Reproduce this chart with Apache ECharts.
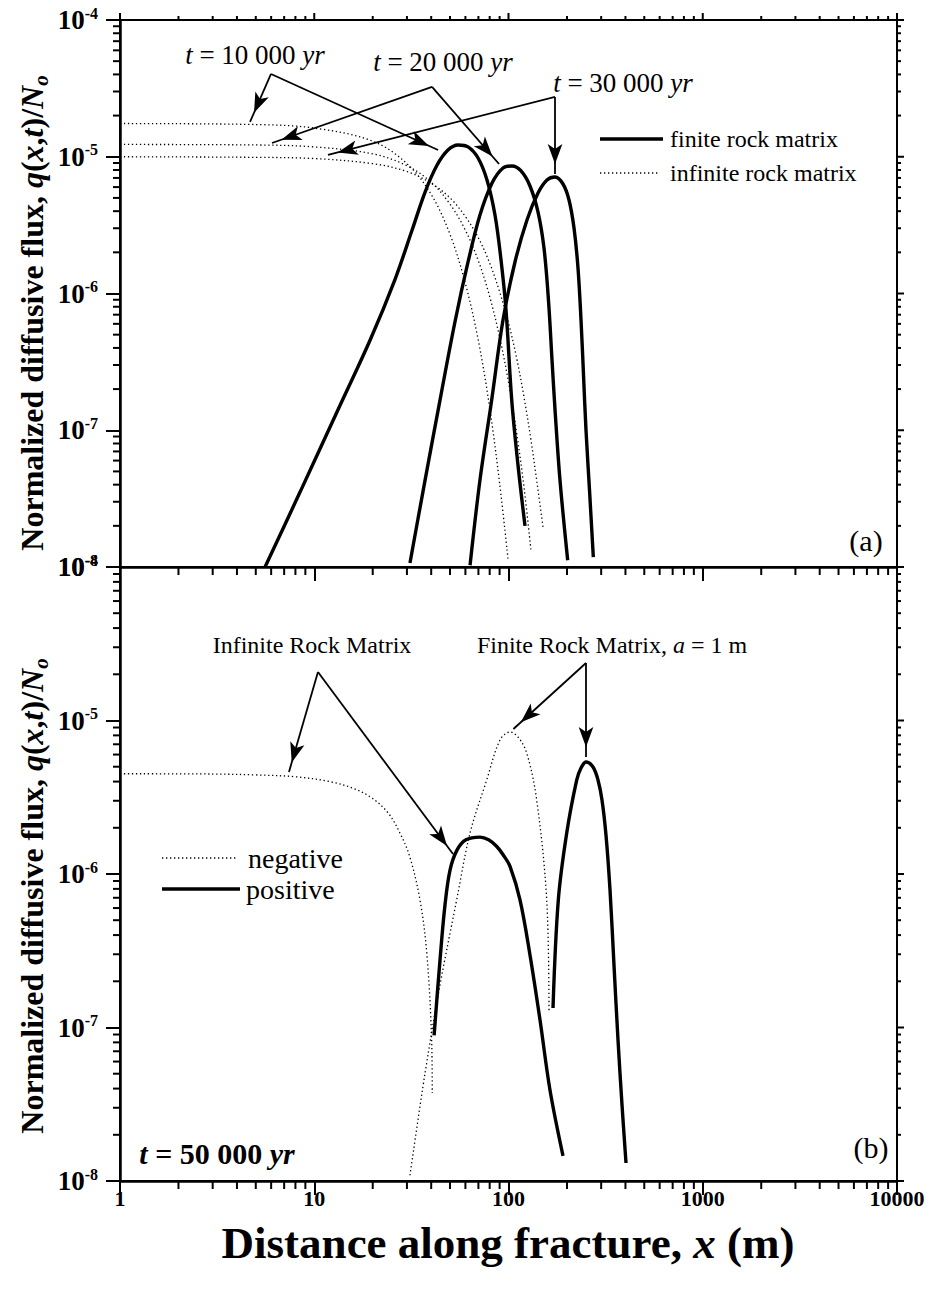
<!DOCTYPE html>
<html><head><meta charset="utf-8">
<script src="https://cdn.jsdelivr.net/npm/echarts/dist/echarts.min.js"></script>
<style>html,body{margin:0;padding:0;background:#fff}#c{width:934px;height:1289px}</style>
</head><body><div id="c"></div>
<script>
// ---------- data ----------
// panel (a): finite rock matrix (thick)
const fin10kX = [5.58, 8.45, 13.6, 19.4, 26.0, 31.9, 37.2, 42.9, 48.8, 55.0, 61.9, 69.7, 77.5, 85.2, 91.5, 97.1, 103.9, 111.9, 121.6];
const fin10kY = [1.0e-8, 3.53e-8, 1.53e-7, 4.57e-7, 1.26e-6, 2.91e-6, 5.52e-6, 8.70e-6, 1.12e-5, 1.22e-5, 1.18e-5, 9.79e-6, 6.76e-6, 3.75e-6, 1.76e-6, 7.57e-7, 1.66e-7, 5.57e-8, 2.0e-8];
const fin20kX = [31.1, 37.2, 44.4, 53.0, 61.9, 71.3, 82.3, 93.7, 104.2, 116.0, 129.0, 141.9, 152.3, 160.6, 167.5, 173.6, 184.1, 201.7];
const fin20kY = [1.07e-8, 4.32e-8, 1.66e-7, 6.19e-7, 1.70e-6, 3.75e-6, 6.43e-6, 8.27e-6, 8.56e-6, 7.87e-6, 6.11e-6, 3.94e-6, 2.15e-6, 8.96e-7, 3.26e-7, 1.41e-7, 4.32e-8, 1.12e-8];
const fin30kX = [63.4, 71.3, 81.9, 93.7, 108.0, 124.5, 141.9, 157.8, 173.6, 190.8, 204.9, 217.4, 227.9, 236.2, 243.3, 250.6, 261.2, 273.3];
const fin30kY = [1.03e-8, 4.32e-8, 1.66e-7, 6.40e-7, 1.70e-6, 3.45e-6, 5.43e-6, 6.76e-6, 7.11e-6, 6.32e-6, 4.83e-6, 3.01e-6, 1.54e-6, 6.40e-7, 2.54e-7, 1.0e-7, 3.66e-8, 1.18e-8];
// panel (a): infinite rock matrix (dotted)
const inf10kX = [1, 5, 10, 20, 30, 40, 50, 60, 70, 80, 90, 99.4];
const inf10kY = [1.75e-5, 1.72e-5, 1.62e-5, 1.30e-5, 8.9e-6, 5.3e-6, 2.7e-6, 1.18e-6, 4.5e-7, 1.46e-7, 4.1e-8, 1.15e-8];
const inf20kX = [1, 5, 10, 20, 30, 40, 50, 60, 70, 80, 90, 100, 110, 120, 130.6];
const inf20kY = [1.23e-5, 1.22e-5, 1.18e-5, 1.05e-5, 8.6e-6, 6.5e-6, 4.5e-6, 2.9e-6, 1.73e-6, 9.5e-7, 4.8e-7, 2.25e-7, 9.7e-8, 3.9e-8, 1.31e-8];
const inf30kX = [1, 5, 10, 20, 30, 40, 50, 60, 70, 80, 90, 100, 110, 120, 130, 140, 151];
const inf30kY = [1.0e-5, 9.9e-6, 9.7e-6, 8.9e-6, 7.8e-6, 6.4e-6, 5.0e-6, 3.65e-6, 2.55e-6, 1.67e-6, 1.03e-6, 6.1e-7, 3.4e-7, 1.77e-7, 8.8e-8, 4.2e-8, 1.9e-8];
// panel (b): t = 50 000 yr
const infNegX = [1, 3, 5, 8, 12, 16, 20, 24, 27.6, 31, 35, 38, 40.2, 40.5];
const infNegY = [4.5e-6, 4.48e-6, 4.42e-6, 4.3e-6, 4.0e-6, 3.6e-6, 3.1e-6, 2.5e-6, 1.85e-6, 1.3e-6, 6.8e-7, 3.0e-7, 8.3e-8, 3.74e-8];
const infPosX = [41.4, 44.4, 47.1, 50.0, 54.3, 60.4, 71.3, 79, 87, 94, 101.8, 114.6, 129.0, 145.3, 163.5, 190.8];
const infPosY = [8.9e-8, 2.75e-7, 6.28e-7, 1.06e-6, 1.43e-6, 1.67e-6, 1.74e-6, 1.67e-6, 1.51e-6, 1.33e-6, 1.12e-6, 6.78e-7, 2.97e-7, 1.12e-7, 3.92e-8, 1.46e-8];
const finNegX = [31.1, 37.2, 44.4, 54.1, 63.4, 77.2, 90.4, 101.8, 112, 124.1, 139.7, 157.3, 161.6];
const finNegY = [1.09e-8, 5.06e-8, 1.89e-7, 6.78e-7, 1.85e-6, 4.09e-6, 7.46e-6, 8.42e-6, 7.8e-6, 6.14e-6, 3.03e-6, 6.78e-7, 1.26e-7];
const finPosX = [169.5, 180.5, 199.4, 224.4, 236.2, 250.6, 272.3, 288.9, 302.9, 317.6, 333.1, 349.2, 366.2, 384.0, 402.7];
const finPosY = [1.34e-7, 6.78e-7, 1.85e-6, 4.09e-6, 4.9e-6, 5.37e-6, 4.98e-6, 4.10e-6, 3.03e-6, 1.79e-6, 7.87e-7, 2.55e-7, 8.3e-8, 3.13e-8, 1.31e-8];
// tick labels
const xTickLabels = ['1', '10', '100', '1000', '10000'];
const yTickExps = ['-8', '-7', '-6', '-5', '-4'];
// annotation arrows, [from, to] in data coordinates
const arrowsTop = [
  [[5.99, 4.03e-5], [4.67, 1.8e-5]],
  [[5.99, 4.03e-5], [43.4, 1.12e-5]],
  [[40.4, 3.24e-5], [6.06, 1.26e-5]],
  [[40.4, 3.24e-5], [89.4, 8.85e-6]],
  [[173.6, 2.74e-5], [11.77, 1.03e-5]],
  [[173.6, 2.74e-5], [173.6, 7.48e-6]]
];
const arrowsBottom = [
  [[10.45, 2.07e-5], [7.41, 4.62e-6]],
  [[10.45, 2.07e-5], [51.8, 1.35e-6]],
  [[250.6, 2.37e-5], [106, 8.8e-6]],
  [[250.6, 2.37e-5], [250.6, 5.78e-6]]
];

// ---------- chart ----------
const FONT = 'Liberation Serif, Times New Roman, serif';
const chart = echarts.init(document.getElementById('c'), null, {renderer: 'svg', width: 934, height: 1289});
const zip = (xs, ys) => xs.map((x, i) => [x, ys[i]]);

function lineSeries(xs, ys, gi, isThick, extra) {
  return Object.assign({
    type: 'line', xAxisIndex: gi, yAxisIndex: gi, data: zip(xs, ys),
    showSymbol: false, symbol: 'none', smooth: 0.35, silent: true,
    lineStyle: isThick ? {color: '#000', width: 3.4} : {color: '#000', width: 1.3, type: [1.3, 2.7]},
    z: isThick ? 4 : 3
  }, extra || {});
}
function arrowMark(list) {
  return {
    silent: true, animation: false, symbol: ['none', 'arrow'], label: {show: false},
    lineStyle: {color: '#000', width: 1.8, type: 'solid'}, emphasis: {disabled: true},
    data: list.map(a => [{coord: a[0], symbol: 'none'}, {coord: a[1], symbol: 'arrow', symbolSize: [11, 20], symbolOffset: [0, 10]}])
  };
}
function tickData(gi) {
  const d = [];
  for (let e = -8; e < -4; e++) for (let m = 2; m <= 9; m++) {
    const v = m * Math.pow(10, e); d.push([1, v, 0]); d.push([10000, v, 3]);
  }
  for (let e = -8; e <= -4; e++) d.push([10000, Math.pow(10, e), 4]);
  for (let e = 0; e < 4; e++) for (let m = 2; m <= 9; m++) {
    const v = m * Math.pow(10, e); d.push([v, 1e-8, 1]); if (gi === 0) d.push([v, 1e-4, 2]);
  }
  if (gi === 0) for (let e = 0; e <= 4; e++) d.push([Math.pow(10, e), 1e-4, 5]);
  return d;
}
function renderTick(params, api) {
  const p = api.coord([api.value(0), api.value(1)]);
  const k = api.value(2);
  let x2 = p[0], y2 = p[1];
  if (k === 0) x2 -= 7;
  else if (k === 1) y2 += 8;
  else if (k === 2) y2 -= 4;
  else if (k === 3) x2 += 4;
  else if (k === 4) x2 += 7;
  else if (k === 5) y2 -= 7;
  return {type: 'line', shape: {x1: p[0], y1: p[1], x2: x2, y2: y2}, style: {stroke: '#000', lineWidth: 2}};
}
function tickSeries(gi) {
  return {type: 'custom', xAxisIndex: gi, yAxisIndex: gi, data: tickData(gi), renderItem: renderTick, silent: true, clip: false, z: 10};
}

function xAxis(gi) {
  return {
    gridIndex: gi, type: 'log', logBase: 10, min: 1, max: 10000,
    axisLine: {show: true, onZero: false, lineStyle: {color: '#000', width: 2.5}},
    axisTick: {show: true, inside: false, length: 14, lineStyle: {color: '#000', width: 2}},
    splitLine: {show: false},
    axisLabel: gi === 0 ? {show: false} : {
      show: true, margin: 6, color: '#000', fontFamily: FONT, fontSize: 22, fontWeight: 'bold',
      formatter: v => xTickLabels[Math.round(Math.log10(v))]
    }
  };
}
function yAxis(gi) {
  return {
    gridIndex: gi, type: 'log', logBase: 10, min: 1e-8, max: 1e-4, splitNumber: 4,
    axisLine: {show: true, onZero: false, lineStyle: {color: '#000', width: 2.5}},
    axisTick: {show: true, inside: false, length: 14, lineStyle: {color: '#000', width: 2}},
    splitLine: {show: false},
    axisLabel: {
      show: true, margin: 22, showMaxLabel: gi === 0, showMinLabel: true,
      formatter: v => '{b|10}{s|' + yTickExps[Math.round(Math.log10(v)) + 8] + '}',
      rich: {
        b: {fontFamily: FONT, fontSize: 27, fontWeight: 'bold', color: '#000', lineHeight: 30},
        s: {fontFamily: FONT, fontSize: 16, fontWeight: 'bold', color: '#000', verticalAlign: 'top', lineHeight: 14}
      }
    }
  };
}

const tok = (fs, bold, italic, extra) => Object.assign({fontFamily: FONT, fontSize: fs, fontWeight: bold ? 'bold' : 'normal', fontStyle: italic ? 'italic' : 'normal', fill: '#000'}, extra || {});
function text(x, y, str, fs, opts) {
  opts = opts || {};
  const bold = !!opts.bold;
  return {
    type: 'text', x: x, y: y, rotation: opts.rotation || 0, z: 50, silent: true,
    style: {
      text: str, align: opts.align || 'center', verticalAlign: 'middle',
      fontFamily: FONT, fontSize: fs, fontWeight: bold ? 'bold' : 'normal', fill: '#000',
      rich: opts.rich || {
        n: tok(fs, bold, false), i: tok(fs, bold, true)
      }
    }
  };
}
function seg(x1, y1, x2, y2, isThick) {
  return {type: 'line', z: 50, silent: true, shape: {x1, y1, x2, y2},
    style: isThick ? {stroke: '#000', lineWidth: 3.4} : {stroke: '#000', lineWidth: 1.3, lineDash: [1.3, 2.7]}};
}
const yTitleRich = {
  b: tok(32, true, false, {lineHeight: 38}),
  bi: tok(32, true, true, {lineHeight: 38}),
  sub: tok(21, true, true, {lineHeight: 21, verticalAlign: 'bottom'})
};
const yTitle = '{b|Normalized diffusive flux, }{bi|q}{b|(}{bi|x}{b|,}{bi|t}{b|)/}{bi|N}{sub|o}';

const graphics = [
  text(32, 313, yTitle, 32, {rotation: Math.PI / 2, rich: yTitleRich}),
  text(32, 896, yTitle, 32, {rotation: Math.PI / 2, rich: yTitleRich}),
  text(508, 1243, '{b|Distance along fracture, }{bi|x}{b| (m)}', 45, {rich: {b: tok(45, true, false), bi: tok(45, true, true)}}),
  text(255, 55, '{i|t}{n| = 10 000 }{i|yr}', 27),
  text(443, 62, '{i|t}{n| = 20 000 }{i|yr}', 27),
  text(623, 83, '{i|t}{n| = 30 000 }{i|yr}', 27),
  seg(600, 139, 663, 139, true), text(670, 139, 'finite rock matrix', 24, {align: 'left'}),
  seg(600, 173, 660, 173, false), text(670, 173, 'infinite rock matrix', 24, {align: 'left'}),
  text(866, 540, '(a)', 30),
  text(312, 645, 'Infinite Rock Matrix', 24),
  text(612, 645, '{n|Finite Rock Matrix, }{i|a}{n| = 1 m}', 24),
  seg(162, 858, 238, 858, false), text(248, 858, 'negative', 28, {align: 'left'}),
  seg(162, 889, 240, 889, true), text(246, 889, 'positive', 28, {align: 'left'}),
  text(217, 1153, '{i|t}{n| = 50 000 }{i|yr}', 30, {bold: true}),
  text(871, 1147, '(b)', 30)
];

const option = {
  animation: false,
  backgroundColor: '#fff',
  grid: [
    {left: 120, top: 20, width: 777, height: 547, show: true, borderColor: '#000', borderWidth: 2, backgroundColor: 'transparent', outerBoundsMode: 'none', containLabel: false},
    {left: 120, top: 567, width: 777, height: 614, show: true, borderColor: '#000', borderWidth: 2, backgroundColor: 'transparent', outerBoundsMode: 'none', containLabel: false}
  ],
  xAxis: [xAxis(0), xAxis(1)],
  yAxis: [yAxis(0), yAxis(1)],
  series: [
    lineSeries(fin10kX, fin10kY, 0, true, {name: 'finite 10000', markLine: arrowMark(arrowsTop)}),
    lineSeries(fin20kX, fin20kY, 0, true, {name: 'finite 20000'}),
    lineSeries(fin30kX, fin30kY, 0, true, {name: 'finite 30000'}),
    lineSeries(inf10kX, inf10kY, 0, false, {name: 'infinite 10000'}),
    lineSeries(inf20kX, inf20kY, 0, false, {name: 'infinite 20000'}),
    lineSeries(inf30kX, inf30kY, 0, false, {name: 'infinite 30000'}),
    lineSeries(infNegX, infNegY, 1, false, {name: 'infinite negative'}),
    lineSeries(infPosX, infPosY, 1, true, {name: 'infinite positive', markLine: arrowMark(arrowsBottom)}),
    lineSeries(finNegX, finNegY, 1, false, {name: 'finite negative'}),
    lineSeries(finPosX, finPosY, 1, true, {name: 'finite positive'}),
    tickSeries(0), tickSeries(1)
  ],
  graphic: graphics
};
chart.setOption(option);
</script></body></html>
